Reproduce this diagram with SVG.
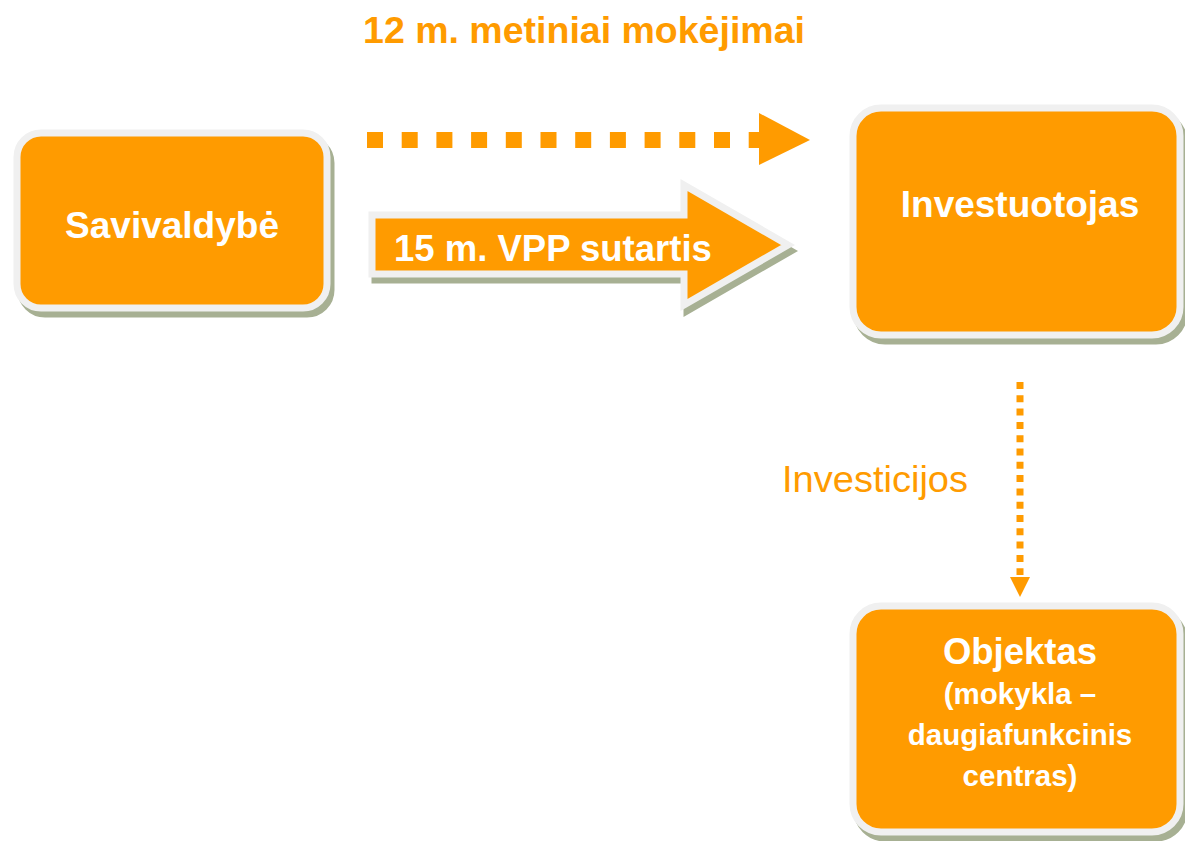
<svg xmlns="http://www.w3.org/2000/svg" width="1185" height="841" viewBox="0 0 1185 841">
<style>
.box{fill:#FF9B00;stroke:#F0F0F0;stroke-width:7}
.shadow{fill:#A7B093;stroke:#A7B093;stroke-width:7}
.wt{fill:#FFFFFF;font-family:"Liberation Sans",Arial,sans-serif;font-weight:bold;text-anchor:middle}
.ot{fill:#FF9B00;font-family:"Liberation Sans",Arial,sans-serif}
</style>
<rect width="1185" height="841" fill="#FFFFFF"/>
<g id="title">
<text class="ot" x="584" y="43" font-size="37.5" font-weight="bold" text-anchor="middle">12 m. metiniai mokėjimai</text>
</g>
<g id="connectors">
<g id="payments">
<line x1="367" y1="140" x2="759" y2="140" stroke="#FF9B00" stroke-width="16" stroke-dasharray="16 18.7"/>
<polygon points="759,113 810,140 759,165" fill="#FF9B00"/>
</g>
<g id="contract">
<polygon points="372,215 684,215 684,185 788,245 684,305 684,274 372,274" class="shadow" transform="translate(3,6)"/>
<polygon points="372,215 684,215 684,185 788,245 684,305 684,274 372,274" class="box" stroke-linejoin="miter"/>
<text class="wt" x="394" y="261" font-size="36.5" style="text-anchor:start">15 m. VPP sutartis</text>
</g>
<g id="investments">
<line x1="1020" y1="382" x2="1020" y2="575" stroke="#FF9B00" stroke-width="7" stroke-dasharray="7 6.3"/>
<polygon points="1010,577 1030,577 1020,597" fill="#FF9B00"/>
<text class="ot" x="782" y="492" font-size="36" textLength="186" lengthAdjust="spacingAndGlyphs">Investicijos</text>
</g>
</g>
<g id="savivaldybe">
<rect x="17" y="133" width="310" height="175" rx="24" class="shadow" transform="translate(4,6)"/>
<rect x="17" y="133" width="310" height="175" rx="24" class="box"/>
<text class="wt" x="172" y="238" font-size="37">Savivaldybė</text>
</g>
<g id="investuotojas">
<rect x="853" y="108" width="327" height="227" rx="28" class="shadow" transform="translate(4,6)"/>
<rect x="853" y="108" width="327" height="227" rx="28" class="box"/>
<text class="wt" x="1020" y="217" font-size="37">Investuotojas</text>
</g>
<g id="objektas">
<rect x="853" y="606" width="327" height="226" rx="28" class="shadow" transform="translate(4,6)"/>
<rect x="853" y="606" width="327" height="226" rx="28" class="box"/>
<text class="wt" x="1020" y="664" font-size="36.5">Objektas</text>
<text class="wt" x="1020" y="704" font-size="29.5">(mokykla –</text>
<text class="wt" x="1020" y="745" font-size="29.5">daugiafunkcinis</text>
<text class="wt" x="1020" y="786" font-size="29.5">centras)</text>
</g>
</svg>
